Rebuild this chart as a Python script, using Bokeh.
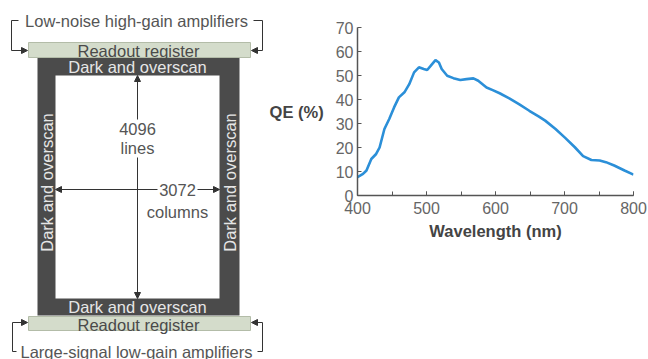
from bokeh.plotting import figure
from bokeh.layouts import row
from bokeh.models import Range1d, Arrow, NormalHead, SingleIntervalTicker
from bokeh.core.properties import value
from bokeh.embed import file_html
from bokeh.resources import INLINE

# ---- chart data ----
wavelength = [400, 408, 413, 420, 427, 432, 439, 446, 453, 460, 468, 475, 482, 489,
              496, 501, 506, 513, 518, 522, 530, 539, 549, 558, 568, 575, 587, 596,
              606, 620, 634, 649, 663, 672, 687, 701, 715, 727, 739, 751, 760, 772,
              787, 800]
qe = [7.6, 9.0, 10.4, 15.2, 17.3, 20.0, 27.7, 31.9, 36.7, 40.9, 43.0, 46.4, 51.3, 53.4,
      52.7, 52.3, 54.0, 56.4, 55.4, 52.7, 49.9, 48.9, 48.1, 48.5, 48.8, 47.8, 45.0, 43.9,
      42.6, 40.5, 38.1, 35.3, 32.9, 31.2, 27.7, 24.0, 20.1, 16.4, 14.8, 14.6, 13.9, 12.5,
      10.4, 8.7]

x_label = "Wavelength (nm)"
y_label = "QE (%)"

# ---- diagram texts ----
top_amp = "Low-noise high-gain amplifiers"
bottom_amp = "Large-signal low-gain amplifiers"
register = "Readout register"
dark = "Dark and overscan"
lines_label = ["4096", "lines"]
cols_label = ["3072", "columns"]

FONT = "Liberation Sans"
LINE = "#333333"

# ================= diagram =================
d = figure(width=266, height=359, x_range=Range1d(0, 266), y_range=Range1d(359, 0),
           min_border=0, output_backend="svg", toolbar_location=None,
           x_axis_location=None, y_axis_location=None)
d.grid.visible = False
d.outline_line_color = None
d.frame_align = False

# chip
d.quad(left=[37], right=[239], top=[56], bottom=[315], fill_color="#4b4b4b", line_color=None)
d.quad(left=[55], right=[219], top=[75], bottom=[298], fill_color="white", line_color=None)
# readout registers
d.quad(left=[28, 28], right=[250, 250], top=[42, 316], bottom=[57, 330],
       fill_color="#d4dccb", line_color="#b3bca8", line_width=1)

txt = dict(text_align="center", text_baseline="middle", text_font=value(FONT),
           text_font_size="16.5px")
d.text(x=[138, 138], y=[50, 324], text=[register, register], text_color="#4a4a4a", **txt)
d.text(x=[137, 137], y=[66, 306], text=[dark, dark], text_color="#e6e6e6", **txt)
d.text(x=[46, 229], y=[182, 182], text=[dark, dark], text_color="#e6e6e6",
       angle=90, angle_units="deg", **txt)
d.text(x=[137, 137], y=[128, 147], text=lines_label, text_color="#555555", **txt)
d.text(x=[177, 177], y=[189, 211], text=cols_label, text_color="#555555", **txt)
d.text(x=[136, 136], y=[20, 351], text=[top_amp, bottom_amp], text_color="#555555", **txt)

# dimension arrows
def arrow(x0, y0, x1, y1):
    d.add_layout(Arrow(end=NormalHead(size=6, fill_color=LINE, line_color=LINE),
                       x_start=x0, y_start=y0, x_end=x1, y_end=y1,
                       line_color=LINE, line_width=1))

arrow(137, 119, 137, 75)
arrow(137, 157, 137, 298)
arrow(157, 189, 55, 189)
arrow(197, 189, 219, 189)

# amplifier brackets
d.multi_line(xs=[[18, 11, 11], [253, 262, 262], [12, 12, 16], [262, 262, 257]],
             ys=[[20, 20, 50], [20, 20, 50], [322, 351, 351], [322, 351, 351]],
             line_color=LINE, line_width=1)
arrow(11, 50, 27, 50)
arrow(262, 50, 251, 50)
arrow(12, 322, 27, 322)
arrow(262, 322, 251, 322)

# ================= chart =================
p = figure(width=382, height=359, x_range=Range1d(400, 800), y_range=Range1d(0, 70),
           output_backend="svg", toolbar_location=None,
           min_border_left=87, min_border_right=15, min_border_top=27, min_border_bottom=164)
p.outline_line_color = None
p.grid.visible = False
p.frame_align = False

p.line(wavelength, qe, line_color="#2b8fd8", line_width=2.6)

p.xaxis.ticker = SingleIntervalTicker(interval=100, num_minor_ticks=2)
p.yaxis.ticker = SingleIntervalTicker(interval=10, num_minor_ticks=0)
for ax in (p.xaxis[0], p.yaxis[0]):
    ax.axis_line_color = "#555555"
    ax.axis_line_width = 1.5
    ax.major_tick_line_color = "#555555"
    ax.minor_tick_line_color = "#555555"
    ax.major_tick_in = 4
    ax.major_tick_out = 0
    ax.minor_tick_in = 4
    ax.minor_tick_out = 0
    ax.major_label_text_font = FONT
    ax.major_label_text_font_size = "16px"
    ax.major_label_text_color = "#666666"
    ax.axis_label_text_font = FONT
    ax.axis_label_text_font_size = "16.5px"
    ax.axis_label_text_font_style = "bold"
    ax.axis_label_text_color = "#444444"

p.xaxis.axis_label = x_label
p.xaxis.major_label_standoff = 6
p.xaxis.axis_label_standoff = 5
p.yaxis.axis_label = y_label
p.yaxis.axis_label_orientation = "horizontal"
p.yaxis.major_label_standoff = 4
p.yaxis.axis_label_standoff = 9

layout = row(d, p, spacing=0)
open("out.html", "w").write(file_html(layout, INLINE))
